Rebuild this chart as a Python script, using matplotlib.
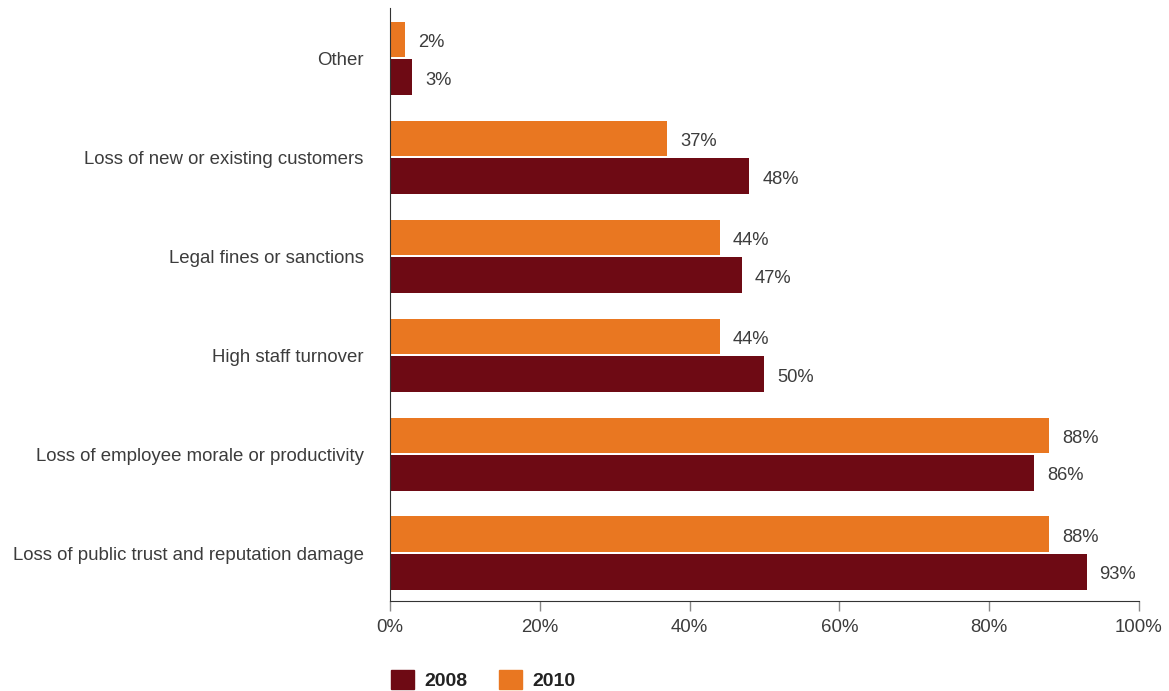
import matplotlib.pyplot as plt
import numpy as np
from matplotlib.patches import Patch

# survey categories, listed bottom to top
categories = [
    "Loss of public trust and reputation damage",
    "Loss of employee morale or productivity",
    "High staff turnover",
    "Legal fines or sanctions",
    "Loss of new or existing customers",
    "Other",
]
values_2008 = [93, 86, 50, 47, 48, 3]
values_2010 = [88, 88, 44, 44, 37, 2]

col_2008 = "#6e0a14"
col_2010 = "#e97721"
text_col = "#3c3c3c"

plt.rcParams['font.family'] = ['Liberation Sans', 'DejaVu Sans']

fig = plt.figure(figsize=(11.69, 6.91), dpi=100)
ax = fig.add_axes([0.3336, 0.1302, 0.6407, 0.8582])

y = np.arange(len(categories))
h = 0.36
off = 0.19
bars08 = ax.barh(y - off, values_2008, height=h, color=col_2008)
bars10 = ax.barh(y + off, values_2010, height=h, color=col_2010)

# value labels next to each bar
for bars, vals in ((bars08, values_2008), (bars10, values_2010)):
    for b, v in zip(bars, vals):
        ax.annotate(f"{v}%", (b.get_width(), b.get_y() + b.get_height() / 2),
                    xytext=(13, -3), textcoords="offset pixels",
                    va="center", ha="left", fontsize=13.2, color=text_col)

ax.set_xlim(0, 100)
ax.set_ylim(-0.485, 5.51)
ax.set_yticks(y)
ax.set_yticklabels(categories, fontsize=13.4, color=text_col)
ax.set_xticks(np.arange(0, 101, 20))
ax.set_xticklabels([f"{t}%" for t in range(0, 101, 20)], fontsize=13.4, color=text_col)
ax.tick_params(axis="y", length=0, pad=19)
ax.tick_params(axis="x", length=7, width=1, color="#888888", pad=6)

for s in ("top", "right"):
    ax.spines[s].set_visible(False)
ax.spines["left"].set_color("#333333")
ax.spines["bottom"].set_color("#333333")

handles = [Patch(color=col_2008, label="2008"), Patch(color=col_2010, label="2010")]
leg = fig.legend(handles=handles, loc="lower left", bbox_to_anchor=(0.3336, 0.0),
                 ncol=2, frameon=False, handlelength=1.2, handleheight=1.2,
                 handletextpad=0.52, columnspacing=1.6, borderaxespad=0, borderpad=0.05,
                 prop={"weight": "bold", "size": 14})
for t in leg.get_texts():
    t.set_color("#222222")

fig.savefig("out.png", dpi=100)
